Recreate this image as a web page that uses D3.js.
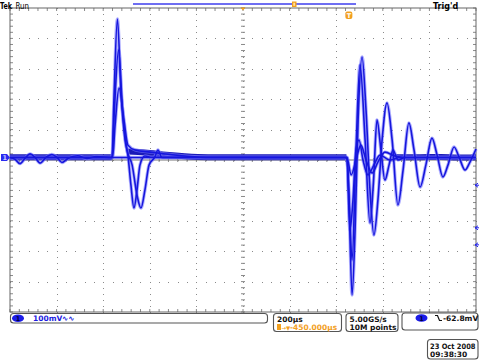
<!DOCTYPE html>
<html><head><meta charset="utf-8">
<script src="https://cdn.jsdelivr.net/npm/d3@7"></script>
<style>body{margin:0;background:#fff}svg{display:block}text{font-family:"DejaVu Sans",sans-serif}</style>
</head><body><svg id="c" width="480" height="360"></svg>
<script>
// ---- data: time in µs relative to trigger, amplitude in mV ----
const timeRange = [-1450, 550];
const voltRange = [-500, 500];
const timeDivUs = 200;
const voltDivMv = 100;
const horizLabel = "200µs";
const vertLabel = "100mV";
const delayLabel = "-450.000µs";
const rateLabel = "5.00GS/s";
const recordLabel = "10M points";
const trigLevelLabel = "-62.8mV";
const dateLabel = "23 Oct  2008";
const timeLabel = "09:38:30";

const traceA = [[-1450,8],[-1012,8],[-1004,197],[-989,464],[-974,230],[-956,66],[-944,16],[-931,-82],[-918,-158],[-905,-99],[-892,-16],[-871,13],[-840,9],[-12,8],[-4,7],[5,-132],[18,-444],[31,-230],[44,132],[61,339],[78,164],[95,-99],[112,-247],[129,-132],[147,66],[168,188],[190,66],[215,-148],[237,-33],[262,122],[284,33],[310,-89],[335,-16],[361,72],[383,16],[408,-56],[430,-16],[456,43],[477,10],[503,-33],[524,-7],[550,36]];
const traceB = [[-1450,8],[-1012,8],[-1002,164],[-984,362],[-967,164],[-948,33],[-926,-16],[-905,-115],[-888,-158],[-871,-99],[-853,-16],[-828,10],[-815,33],[-798,8],[-12,8],[-4,8],[7,-164],[18,-329],[35,33],[52,313],[74,66],[95,-207],[110,-72],[125,132],[142,33],[159,-66],[177,-16],[194,33],[215,0],[245,8],[550,8]];
const traceC = [[-1450,8],[-1010,8],[-999,115],[-982,237],[-961,132],[-944,49],[-913,33],[-849,26],[-785,20],[-699,13],[-592,8],[-12,8],[-4,8],[9,-230],[22,-132],[35,33],[48,66],[65,0],[86,-49],[112,-16],[138,16],[181,0],[224,8],[550,8]];
const traceD = [[-1450,8],[-1428,2],[-1407,-12],[-1385,6],[-1364,20],[-1342,8],[-1321,-10],[-1295,9],[-1270,18],[-1248,8],[-1227,-8],[-1200,6],[-1160,14],[-1120,5],[-1080,11],[-1012,8],[-4,8],[14,-49],[35,0],[56,49],[78,0],[104,-43],[129,-7],[159,26],[202,13],[245,8],[550,8]];
const bandPre = [[-1450,9],[-1013,9]];
const bandMid = [[-944,28],[-900,26],[-850,23],[-780,17],[-700,12],[-600,9],[-6,9]];
const bandPost = [[190,12],[230,9],[300,9],[400,10],[470,8],[550,9]];
const rightMarkersMv = [-83,-223,-279];

// ---- drawing ----
const svg = d3.select("#c");
const L = 10, R = 476, T = 8, B = 312;
const x = d3.scaleLinear().domain(timeRange).range([L, R]);
const y = d3.scaleLinear().domain(voltRange).range([B, T]);
const gray = "#8a8a8a";

const g = svg.append("g");
const majorT = d3.range(timeRange[0], timeRange[1] + 1, timeDivUs);
const majorV = d3.range(voltRange[0], voltRange[1] + 1, voltDivMv);
const minorT = d3.range(timeRange[0], timeRange[1] + 1, timeDivUs / 5);
const minorV = d3.range(voltRange[0], voltRange[1] + 1, voltDivMv / 5);
const midT = (timeRange[0] + timeRange[1]) / 2, midV = 0;
majorT.slice(1, -1).forEach(t => {
  minorV.forEach(v => g.append("rect").attr("x", Math.round(x(t))).attr("y", Math.round(y(v))).attr("width", 1).attr("height", 1).attr("fill", gray));
});
majorV.slice(1, -1).forEach(v => {
  minorT.forEach(t => g.append("rect").attr("x", Math.round(x(t))).attr("y", Math.round(y(v))).attr("width", 1).attr("height", 1).attr("fill", gray));
});
minorT.forEach(t => {
  g.append("line").attr("x1", x(t)).attr("x2", x(t)).attr("y1", T).attr("y2", T + 3).attr("stroke", gray);
  g.append("line").attr("x1", x(t)).attr("x2", x(t)).attr("y1", B).attr("y2", B - 3).attr("stroke", gray);
  g.append("line").attr("x1", x(t)).attr("x2", x(t)).attr("y1", y(midV) - 2).attr("y2", y(midV) + 2).attr("stroke", gray);
});
minorV.forEach(v => {
  g.append("line").attr("x1", L).attr("x2", L + 3).attr("y1", y(v)).attr("y2", y(v)).attr("stroke", gray);
  g.append("line").attr("x1", R).attr("x2", R - 3).attr("y1", y(v)).attr("y2", y(v)).attr("stroke", gray);
  g.append("line").attr("x1", x(midT) - 2).attr("x2", x(midT) + 2).attr("y1", y(v)).attr("y2", y(v)).attr("stroke", gray);
});
g.append("line").attr("x1", L).attr("x2", R).attr("y1", y(midV)).attr("y2", y(midV)).attr("stroke", "#777").attr("stroke-width", 1);
g.append("rect").attr("x", L).attr("y", T).attr("width", R - L).attr("height", B - T).attr("fill", "none").attr("stroke", "#666").attr("stroke-width", 1);

// waveforms
const line = d3.line().x(d => x(d[0])).y(d => y(d[1])).curve(d3.curveMonotoneX);
const wave = svg.append("g");
[bandPre, bandMid, bandPost].forEach(s => wave.append("path").attr("d", line(s)).attr("fill", "none").attr("stroke", "#1a1ab8").attr("stroke-width", 6));
[traceA, traceB, traceC, traceD].forEach(s => wave.append("path").attr("d", line(s)).attr("fill", "none").attr("stroke", "#7a7aff").attr("stroke-width", 3.4).attr("stroke-opacity", 0.6));
[traceA, traceB, traceC, traceD].forEach(s => wave.append("path").attr("d", line(s)).attr("fill", "none").attr("stroke", "#1616dc").attr("stroke-width", 1.6));

// right side markers
rightMarkersMv.forEach(v => {
  const yy = y(v);
  svg.append("path").attr("d", `M${R - 1},${yy} l3,-2 M${R - 1},${yy} l3,2 M${R - 1},${yy} h4`).attr("stroke", "#2222ee").attr("stroke-width", 1).attr("fill", "none");
});
// channel 1 marker
const y0 = y(8);
svg.append("path").attr("d", `M1,${y0 - 3.5} h6 l3,3.5 l-3,3.5 h-6 z`).attr("fill", "#2a2af0");
svg.append("text").attr("x", 2.5).attr("y", y0 + 2.5).attr("font-size", 6.5).attr("font-weight", "bold").attr("fill", "#c8c8ff").text("1");

// top bar
svg.append("text").attr("x", 0).attr("y", 8.5).attr("font-size", 8.5).attr("font-weight", "bold").attr("fill", "#000").attr("textLength", 12).attr("lengthAdjust", "spacingAndGlyphs").text("Tek");
svg.append("text").attr("x", 15.5).attr("y", 8.5).attr("font-size", 8).attr("fill", "#000").attr("textLength", 13.5).attr("lengthAdjust", "spacingAndGlyphs").text("Run");
svg.append("text").attr("x", 433).attr("y", 8.5).attr("font-size", 8).attr("font-weight", "bold").attr("fill", "#000").text("Trig'd");
svg.append("line").attr("x1", 133).attr("x2", 356).attr("y1", 4).attr("y2", 4).attr("stroke", "#6e6ef2").attr("stroke-width", 2);
const orange = "#f2a01e";
svg.append("path").attr("d", `M${x(midT) - 2.5},7.5 h5 l-2.5,3 z`).attr("fill", orange);
svg.append("rect").attr("x", 292).attr("y", 1.5).attr("width", 4.5).attr("height", 5.5).attr("fill", orange);
svg.append("rect").attr("x", 293.3).attr("y", 2.8).attr("width", 1.8).attr("height", 3).attr("fill", "#ffe0a0");
const tx = x(0);
svg.append("rect").attr("x", tx - 2.5).attr("y", 11.5).attr("width", 7).attr("height", 7.5).attr("rx", 2).attr("fill", orange);
svg.append("text").attr("x", tx + 1).attr("y", 17.5).attr("font-size", 6.5).attr("font-weight", "bold").attr("text-anchor", "middle").attr("fill", "#fff").text("T");

// bottom boxes
function box(x0, y0, w, h) {
  svg.append("rect").attr("x", x0).attr("y", y0).attr("width", w).attr("height", h).attr("rx", 3).attr("fill", "#fff").attr("stroke", "#555").attr("stroke-width", 1.1);
}
box(10.5, 313.5, 257, 9.5);
box(273.5, 313.5, 68, 18);
box(346, 313.5, 52, 18);
box(402, 313, 76, 17);
box(427.5, 339.5, 50.5, 19.5);
svg.append("ellipse").attr("cx", 18).attr("cy", 318.3).attr("rx", 6).attr("ry", 3.8).attr("fill", "#1c1ce8");
svg.append("text").attr("x", 18).attr("y", 320.8).attr("font-size", 6.5).attr("font-weight", "bold").attr("text-anchor", "middle").attr("fill", "#000040").text("1");
svg.append("text").attr("x", 33).attr("y", 321).attr("font-size", 7.5).attr("font-weight", "bold").attr("fill", "#1c1ce0").text(vertLabel);
svg.append("text").attr("x", 62).attr("y", 321).attr("font-size", 7.5).attr("font-weight", "bold").attr("fill", "#1c1ce0").text("∿∿");

svg.append("text").attr("x", 277).attr("y", 321.5).attr("font-size", 7.5).attr("fill", "#111").attr("font-weight", "bold").text(horizLabel);
svg.append("rect").attr("x", 277).attr("y", 324).attr("width", 4).attr("height", 6).attr("fill", orange);
svg.append("text").attr("x", 281.5).attr("y", 329.5).attr("font-size", 5.5).attr("fill", orange).attr("font-weight", "bold").text("→▼");
svg.append("text").attr("x", 290).attr("y", 329.5).attr("font-size", 7.5).attr("fill", orange).attr("font-weight", "bold").text(delayLabel);

svg.append("text").attr("x", 349.5).attr("y", 321.5).attr("font-size", 7.5).attr("fill", "#111").attr("font-weight", "bold").text(rateLabel);
svg.append("text").attr("x", 349.5).attr("y", 329.5).attr("font-size", 7.5).attr("fill", "#111").attr("font-weight", "bold").text(recordLabel);

svg.append("ellipse").attr("cx", 421.5).attr("cy", 318).attr("rx", 6).attr("ry", 3.8).attr("fill", "#1c1ce8");
svg.append("text").attr("x", 421.5).attr("y", 320.5).attr("font-size", 6.5).attr("font-weight", "bold").attr("text-anchor", "middle").attr("fill", "#000040").text("1");
svg.append("path").attr("d", "M435,315.5 h2.5 l2,5 h2.5").attr("fill", "none").attr("stroke", "#111").attr("stroke-width", 1.2);
svg.append("text").attr("x", 443).attr("y", 321).attr("font-size", 7.5).attr("fill", "#111").attr("font-weight", "bold").text(trigLevelLabel);

svg.append("text").attr("x", 430).attr("y", 348.5).attr("font-size", 7.5).attr("fill", "#111").attr("font-weight", "bold").attr("textLength", 45.5).attr("lengthAdjust", "spacingAndGlyphs").text(dateLabel);
svg.append("text").attr("x", 430).attr("y", 356.5).attr("font-size", 7.5).attr("fill", "#111").attr("font-weight", "bold").text(timeLabel);
</script></body></html>
